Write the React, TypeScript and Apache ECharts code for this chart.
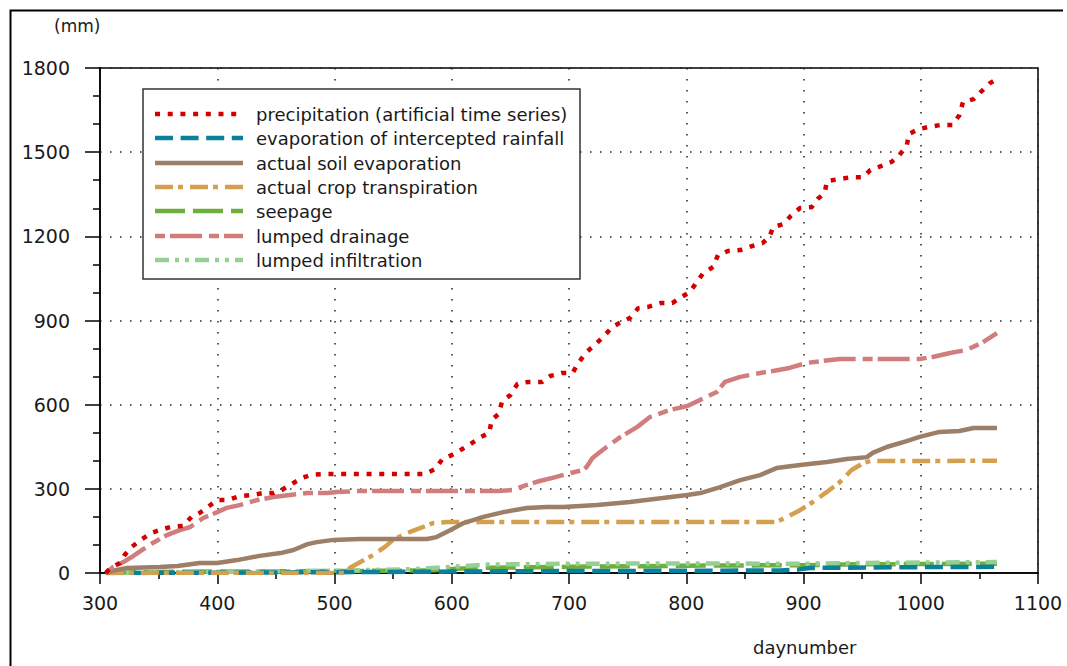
import React, { useEffect, useRef } from "react";
import * as echarts from "echarts";

const seriesNames = [
  "precipitation (artificial time series)",
  "evaporation of intercepted rainfall",
  "actual soil evaporation",
  "actual crop transpiration",
  "seepage",
  "lumped drainage",
  "lumped infiltration",
];

const xTicks = [300, 400, 500, 600, 700, 800, 900, 1000, 1100];
const yTicks = [0, 300, 600, 900, 1200, 1500, 1800];

const precipitation = [
  [305, 0], [309, 18], [317, 36], [321, 64], [327, 93], [336, 121], [344, 143], [351, 153], [360, 164],
  [371, 168], [378, 200], [385, 214], [400, 260], [409, 260], [419, 274], [430, 278], [439, 285], [448, 285],
  [455, 296], [459, 306], [465, 321], [473, 340], [480, 350], [494, 353], [577, 353], [586, 371], [592, 406],
  [600, 420], [609, 442], [616, 460], [625, 485], [632, 499], [634, 545], [640, 567], [643, 613], [650, 634],
  [656, 674], [665, 681], [677, 681], [684, 702], [694, 713], [703, 713], [708, 748], [714, 784], [722, 813],
  [729, 841], [737, 877], [743, 891], [752, 909], [759, 944], [767, 948], [778, 962], [788, 962], [796, 984],
  [803, 1001], [809, 1037], [814, 1066], [823, 1091], [827, 1133], [836, 1148], [846, 1151], [856, 1165],
  [865, 1176], [871, 1197], [874, 1233], [883, 1244], [889, 1272], [897, 1301], [907, 1304], [912, 1333],
  [918, 1354], [920, 1397], [930, 1404], [941, 1411], [951, 1411], [957, 1436], [966, 1450], [975, 1465],
  [981, 1486], [988, 1522], [990, 1565], [998, 1582], [1007, 1590], [1017, 1597], [1027, 1597], [1033, 1632],
  [1036, 1679], [1045, 1689], [1052, 1718], [1059, 1746], [1064, 1758],
];

const interceptedEvaporation = [
  [305, 0], [400, 1], [500, 3], [600, 5], [700, 7], [800, 8], [880, 9], [895, 12], [905, 18], [1000, 21], [1065, 22],
];

const soilEvaporation = [
  [305, 0], [310, 7], [323, 18], [351, 21], [366, 25], [385, 36], [400, 36], [417, 46], [436, 61], [454, 71],
  [465, 82], [477, 103], [485, 110], [499, 118], [522, 121], [579, 121], [587, 128], [599, 153], [610, 178],
  [627, 200], [644, 217], [664, 232], [681, 235], [695, 235], [724, 242], [752, 253], [780, 267], [801, 278],
  [812, 285], [829, 306], [846, 331], [863, 349], [877, 374], [897, 385], [920, 396], [937, 406], [954, 413],
  [959, 428], [971, 449], [988, 470], [999, 485], [1016, 503], [1033, 506], [1045, 517], [1065, 517],
];

const cropTranspiration = [
  [305, 0], [510, 0], [513, 18], [522, 39], [533, 64], [543, 93], [550, 118], [562, 143], [573, 160], [584, 178],
  [596, 182], [877, 182], [886, 200], [897, 224], [908, 253], [920, 289], [931, 324], [941, 367], [951, 392],
  [957, 399], [1065, 400],
];

const seepage = [
  [305, 0], [350, 4], [450, 6], [550, 8], [585, 10], [600, 14], [620, 18], [700, 22], [800, 26], [900, 28],
  [950, 31], [1000, 32], [1065, 33],
];

const lumpedDrainage = [
  [305, 0], [311, 21], [320, 39], [327, 57], [336, 82], [345, 107], [357, 135], [368, 153], [377, 164],
  [388, 196], [400, 217], [408, 232], [419, 242], [434, 260], [448, 271], [462, 278], [477, 285], [494, 285],
  [502, 289], [520, 292], [640, 292], [652, 296], [664, 314], [675, 328], [686, 339], [698, 353], [712, 367],
  [715, 378], [720, 410], [732, 449], [744, 485], [758, 520], [769, 556], [786, 581], [801, 595], [812, 617],
  [826, 645], [833, 681], [846, 699], [863, 713], [874, 720], [888, 731], [903, 749], [917, 756], [931, 763],
  [999, 763], [1010, 770], [1025, 784], [1039, 795], [1052, 820], [1065, 855],
];

const lumpedInfiltration = [
  [305, 0], [400, 4], [500, 8], [570, 14], [600, 22], [630, 30], [700, 33], [800, 34], [900, 33], [950, 36],
  [1000, 37], [1065, 39],
];

const seriesData = [
  precipitation,
  interceptedEvaporation,
  soilEvaporation,
  cropTranspiration,
  seepage,
  lumpedDrainage,
  lumpedInfiltration,
];

const colors = ["#d40000", "#0a819b", "#9c7f66", "#d4a050", "#6eae3c", "#d27d7d", "#94d094"];
const dashes: any[] = [
  [5, 7.7],
  [18, 7.6],
  null,
  [18, 5, 5, 7],
  [30, 8],
  [10, 5, 32, 7],
  [14, 6, 4, 6, 4, 6],
];
const drawOrder = [4, 6, 1, 3, 2, 5, 0];

const FONT = "DejaVu Sans";

export default function App() {
  const ref = useRef<HTMLDivElement>(null);
  useEffect(() => {
    if (!ref.current) return;
    const chart = echarts.init(ref.current, undefined, { renderer: "svg" });
    const series = drawOrder.map((i) => ({
      name: seriesNames[i],
      type: "line",
      data: seriesData[i],
      showSymbol: false,
      symbol: "none",
      z: 3 + drawOrder.indexOf(i),
      lineStyle: { color: colors[i], width: 4.5, type: dashes[i] || "solid", cap: "butt" },
      itemStyle: { color: colors[i] },
    }));

    const legendLeft = 143;
    const legendTop = 89;
    const rowY0 = 114;
    const rowStep = 24.35;
    const legendItems: any[] = [
      {
        type: "rect",
        z: 100,
        shape: { x: legendLeft, y: legendTop, width: 437, height: 190 },
        style: { fill: "#fff", stroke: "#333", lineWidth: 1.5 },
        silent: true,
      },
    ];
    seriesNames.forEach((name, i) => {
      const y = Math.round(rowY0 + i * rowStep);
      legendItems.push({
        type: "line",
        z: 101,
        shape: { x1: 155, y1: y, x2: 243, y2: y },
        style: {
          stroke: colors[i],
          lineWidth: 4.5,
          lineDash: dashes[i] || undefined,
          lineCap: "butt",
        },
        silent: true,
      });
      legendItems.push({
        type: "text",
        z: 101,
        x: 256,
        y: y,
        style: {
          text: name,
          fontFamily: FONT,
          fontSize: 18,
          fill: "#1a1a1a",
          verticalAlign: "middle",
          textVerticalAlign: "middle",
        },
        silent: true,
      });
    });

    chart.setOption({
      animation: false,
      backgroundColor: "#fff",
      textStyle: { fontFamily: FONT },
      grid: {
        left: 100,
        right: 29,
        top: 68,
        bottom: 93,
        show: true,
        borderColor: "#000",
        borderWidth: 1.5,
        backgroundColor: "transparent",
      },
      xAxis: {
        type: "value",
        min: xTicks[0],
        max: xTicks[xTicks.length - 1],
        interval: 100,
        axisLine: { show: true, onZero: false, lineStyle: { color: "#000", width: 1.5 } },
        axisTick: { show: true, length: 11, lineStyle: { color: "#000", width: 1.5 } },
        minorTick: { show: true, splitNumber: 2, length: 6, lineStyle: { color: "#000", width: 1.5 } },
        axisLabel: {
          margin: 20,
          fontSize: 19,
          color: "#1a1a1a",
          fontFamily: FONT,
          formatter: (v: number) => String(v),
        },
        splitLine: { show: true, lineStyle: { color: "#222", width: 1.5, type: [1.5, 9.5] } },
      },
      yAxis: {
        type: "value",
        min: yTicks[0],
        max: yTicks[yTicks.length - 1],
        interval: 300,
        axisLine: { show: true, lineStyle: { color: "#000", width: 1.5 } },
        axisTick: { show: true, length: 15, lineStyle: { color: "#000", width: 1.5 } },
        minorTick: { show: true, splitNumber: 3, length: 7, lineStyle: { color: "#000", width: 1.5 } },
        axisLabel: {
          margin: 30,
          fontSize: 19,
          color: "#1a1a1a",
          fontFamily: FONT,
          formatter: (v: number) => String(v),
        },
        splitLine: { show: true, lineStyle: { color: "#222", width: 1.5, type: [1.5, 8.5] } },
      },
      graphic: [
        {
          type: "polyline",
          shape: { points: [[10.5, 666], [10.5, 10.5], [1063, 10.5]] },
          style: { stroke: "#000", lineWidth: 2, fill: "none" },
          silent: true,
        },
        {
          type: "text",
          left: 54,
          top: 17,
          style: { text: "(mm)", fontFamily: FONT, fontSize: 17, fill: "#1a1a1a" },
        },
        {
          type: "text",
          left: 753,
          top: 638,
          style: { text: "daynumber", fontFamily: FONT, fontSize: 18, fill: "#1a1a1a" },
        },
        ...legendItems,
      ],
      series,
    });
    return () => chart.dispose();
  }, []);
  return (
    <div
      ref={ref}
      style={{ position: "fixed", left: 0, top: 0, width: 1067, height: 666, background: "#fff" }}
    />
  );
}
